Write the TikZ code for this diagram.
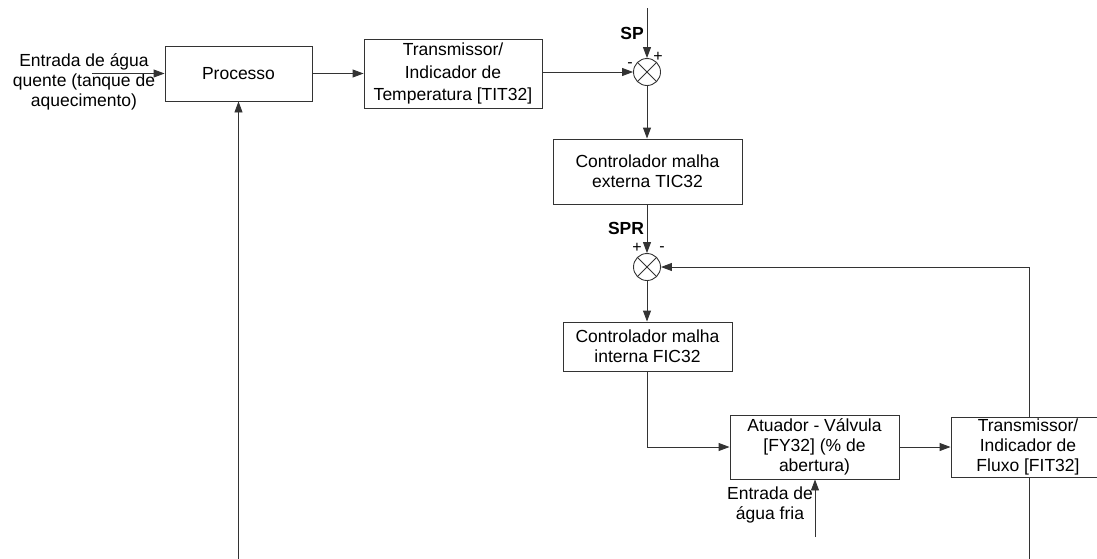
\documentclass[tikz,border=0pt]{standalone}
\usepackage{fontspec}
\setmainfont{Liberation Sans}
\usetikzlibrary{arrows.meta,calc}
\tikzset{
  ln/.style={line width=0.9pt, draw=black!80},
  arr/.style={ln, -{Triangle[length=11pt,width=8pt]}},
  blk/.style={ln, rectangle, inner sep=0pt, align=center, font=\fontsize{17.5}{20}\selectfont},
  sumj/.style={ln, circle, minimum size=27pt, inner sep=0pt},
  txt/.style={inner sep=0pt, align=center, font=\fontsize{17.5}{20}\selectfont},
  btxt/.style={inner sep=0pt, font=\fontsize{17.5}{20}\selectfont\bfseries},
  sgn/.style={inner sep=0pt, font=\fontsize{16}{18}\selectfont}
}
\begin{document}
\begin{tikzpicture}[x=1pt,y=-1pt]
\useasboundingbox (0,0) rectangle (1097,558);
\clip (0,0) rectangle (1097,558);
% blocks
\node[blk, minimum width=147pt, minimum height=55pt] (proc) at (238.5,73.5) {Processo};
\node[blk, minimum width=178pt, minimum height=69pt, font=\fontsize{17.5}{22.5}\selectfont] (tit) at (453,73.5) {Transmissor/\\Indicador de\\Temperatura [TIT32]};
\node[sumj] (s1) at (647,72) {};
\node[blk, minimum width=189pt, minimum height=65pt] (tic) at (647.5,171.5) {Controlador malha\\externa TIC32};
\node[sumj] (s2) at (647,267) {};
\node[blk, minimum width=169pt, minimum height=49pt] (fic) at (647.5,346.5) {Controlador malha\\interna FIC32};
\node[blk, minimum width=169pt, minimum height=64pt] (valve) at (814.5,447) {Atuador - Válvula\\{}[FY32] (\% de\\abertura)};
\node[blk, minimum width=154pt, minimum height=60pt] (fit) at (1028,447) {Transmissor/\\Indicador de\\Fluxo [FIT32]};
% crosses in summing junctions
\draw[ln] (s1.45) -- (s1.225) (s1.135) -- (s1.315);
\draw[ln] (s2.45) -- (s2.225) (s2.135) -- (s2.315);
% texts
\node[txt] (hot) at (84,82) {Entrada de água\\quente (tanque de\\aquecimento)};
\node[txt] (cold) at (770,505) {Entrada de\\água fria};
\node[btxt] (sp) at (632,33) {SP};
\node[btxt] (spr) at (626,228) {SPR};
\node[sgn] (p1) at (658,57) {+};
\node[sgn] (m1) at (630,65) {-};
\node[sgn] (p2) at (637,248) {+};
\node[sgn] (m2) at (662,249) {-};
% coordinates
\coordinate (hotin) at (92,73.5);
\coordinate (sptop) at (647,8);
\coordinate (coldin) at (815,537);
\coordinate (procbot) at (238.5,560);
\coordinate (fitbot) at (1029,560);
\coordinate (fbcorner) at (1029,267);
\coordinate (ficcorner) at (647.5,447);
% connectors
\draw[arr] (hotin) -- (proc.west);
\draw[arr] (proc.east) -- (tit.west);
\draw[arr] (tit.east |- s1.west) -- (s1.west);
\draw[arr] (sptop) -- (s1.north);
\draw[arr] (s1.south) -- (tic.north -| s1.south);
\draw[arr] (tic.south -| s2.north) -- (s2.north);
\draw[arr] (s2.south) -- (fic.north -| s2.south);
\draw[arr] (fic.south) -- (ficcorner) -- (valve.west);
\draw[arr] (coldin) -- (coldin |- valve.south);
\draw[arr] (valve.east) -- (fit.west);
\draw[arr] (fbcorner |- fit.north) -- (fbcorner) -- (s2.east);
\draw[ln] (fbcorner |- fit.south) -- (fitbot);
\draw[arr] (procbot) -- (proc.south);
\end{tikzpicture}
\end{document}
